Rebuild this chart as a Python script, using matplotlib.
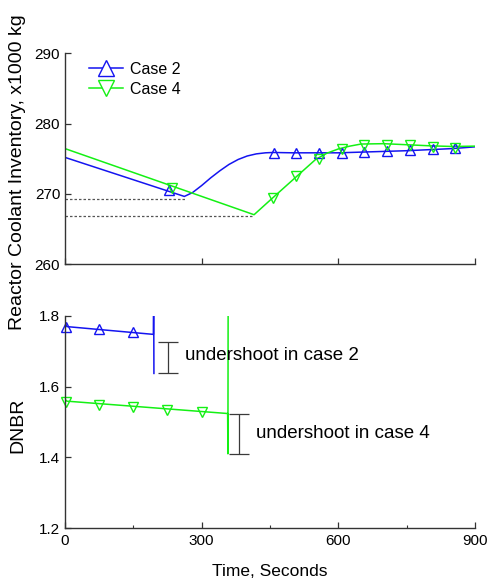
import matplotlib
matplotlib.use("Agg")
import matplotlib.pyplot as plt
from matplotlib.lines import Line2D
from matplotlib.ticker import MultipleLocator

plt.rcParams['font.family'] = ['Liberation Sans', 'DejaVu Sans']

# ---------------- data ----------------
# Top panel: reactor coolant inventory (x1000 kg)
inv_case2_t = [0, 262, 280, 300, 320, 340, 360, 380, 400, 420, 440, 457, 500, 550, 600, 650, 700, 750, 800, 850, 900]
inv_case2_v = [275.2, 269.65, 270.2, 271.2, 272.3, 273.3, 274.2, 274.9, 275.4, 275.7, 275.85, 275.9, 275.85, 275.85, 275.85, 275.95, 276.05, 276.15, 276.3, 276.45, 276.7]
inv_case2_mk_t = [229, 458, 508, 558, 607, 657, 706, 757, 807, 857]
inv_case2_mk_v = [270.55, 275.85, 275.85, 275.85, 275.8, 276.0, 276.1, 276.2, 276.4, 276.5]

inv_case4_t = [0, 415, 450, 500, 550, 575, 600, 625, 650, 700, 750, 800, 850, 900]
inv_case4_v = [276.45, 267.05, 269.1, 272.0, 274.9, 275.8, 276.4, 276.8, 277.1, 277.15, 277.0, 276.85, 276.75, 276.8]
inv_case4_mk_t = [234, 457, 508, 557, 607, 657, 706, 757, 807, 857]
inv_case4_mk_v = [270.8, 269.4, 272.5, 275.0, 276.4, 277.0, 277.0, 276.9, 276.7, 276.6]

min_case2_end, min_case2_v = 263, 269.25
min_case4_end, min_case4_v = 413, 266.8

# Bottom panel: DNBR
dnbr_case2_t = [0, 4, 194, 194.6, 195.2]
dnbr_case2_v = [1.781, 1.770, 1.748, 1.900, 1.6375]
dnbr_case2_mk_t = [3, 75, 150]
dnbr_case2_mk_v = [1.770, 1.763, 1.755]

dnbr_case4_t = [0, 4, 357, 357.6, 358.2]
dnbr_case4_v = [1.5645, 1.559, 1.524, 1.410, 1.900]
dnbr_case4_mk_t = [3, 75, 150, 225, 300]
dnbr_case4_mk_v = [1.557, 1.548, 1.543, 1.535, 1.528]

under2_t, under2_lo, under2_hi = 227, 1.639, 1.727
under4_t, under4_lo, under4_hi = 382, 1.4105, 1.522

labels = ["Case 2", "Case 4"]
inv_yticks = [260, 270, 280, 290]
dnbr_yticks = [1.2, 1.4, 1.6, 1.8]
x_ticks = [0, 300, 600, 900]

# ---------------- styling ----------------
W, H = 489, 580
BLUE = '#1414F0'
GREEN = '#14F014'
SPINE = '#333333'
fig = plt.figure(figsize=(W / 100, H / 100), dpi=100)

def px_axes(x0, x1, ytop, ybot):
    return fig.add_axes([x0 / W, 1 - ybot / H, (x1 - x0) / W, (ybot - ytop) / H])

ax1 = px_axes(65, 475, 53.3, 264.3)
ax2 = px_axes(65, 475, 316, 528)

for ax in (ax1, ax2):
    ax.set_xlim(0, 900)
    for s in ('top', 'right'):
        ax.spines[s].set_visible(False)
    for s in ('left', 'bottom'):
        ax.spines[s].set_color(SPINE)
        ax.spines[s].set_linewidth(1.0)
    ax.set_xticks(x_ticks)
    ax.tick_params(axis='both', direction='in', length=4.5, width=0.9, color=SPINE,
                   labelsize=11, pad=4)
    ax.tick_params(axis='y', pad=3.5)

lw = 1.1
ms = 7.5

# top panel
ax1.set_ylim(260, 290)
ax1.set_yticks(inv_yticks)
ax1.tick_params(axis='x', labelbottom=False)
ax1.plot([0, min_case2_end], [min_case2_v] * 2, color='#555555', lw=0.9, ls=(0, (2, 1.6)))
ax1.plot([0, min_case4_end], [min_case4_v] * 2, color='#555555', lw=0.9, ls=(0, (2, 1.6)))
ax1.plot(inv_case2_t, inv_case2_v, color=BLUE, lw=lw)
ax1.plot(inv_case4_t, inv_case4_v, color=GREEN, lw=lw)
ax1.plot(inv_case2_mk_t, inv_case2_mk_v, ls='none', marker='^', ms=ms, mfc='none',
         mec=BLUE, mew=1.0)
ax1.plot(inv_case4_mk_t, inv_case4_mk_v, ls='none', marker='v', ms=ms, mfc='none',
         mec=GREEN, mew=1.0)

handles = [Line2D([], [], color=BLUE, lw=lw, marker='^', ms=11, mfc='white', mec=BLUE, mew=1.0),
           Line2D([], [], color=GREEN, lw=lw, marker='v', ms=11, mfc='white', mec=GREEN, mew=1.0)]
ax1.legend(handles, labels, loc='upper left', bbox_to_anchor=(0.0585, 0.96), frameon=False,
           fontsize=11.5, handlelength=2.15, handletextpad=0.4, labelspacing=0.3,
           borderpad=0, borderaxespad=0)

# bottom panel
ax2.set_ylim(1.2, 1.8)
ax2.set_yticks(dnbr_yticks)
ax2.set_yticklabels([f"{v:.1f}" for v in dnbr_yticks])
ax2.xaxis.set_minor_locator(MultipleLocator(150))
ax2.tick_params(axis='x', which='minor', direction='in', length=2.5, width=0.8, color=SPINE)
ax2.plot(dnbr_case2_t, dnbr_case2_v, color=BLUE, lw=lw)
ax2.plot(dnbr_case4_t, dnbr_case4_v, color=GREEN, lw=lw)
ax2.plot(dnbr_case2_mk_t, dnbr_case2_mk_v, ls='none', marker='^', ms=ms, mfc='none',
         mec=BLUE, mew=1.0, clip_on=False)
ax2.plot(dnbr_case4_mk_t, dnbr_case4_mk_v, ls='none', marker='v', ms=ms, mfc='none',
         mec=GREEN, mew=1.0, clip_on=False)

for t, lo, hi in ((under2_t, under2_lo, under2_hi), (under4_t, under4_lo, under4_hi)):
    ax2.errorbar([t], [(lo + hi) / 2], yerr=[[(hi - lo) / 2], [(hi - lo) / 2]], fmt='none',
                 ecolor='#3a3a3a', elinewidth=0.9, capsize=7, capthick=0.9)

ax2.text(263, 1.689, "undershoot in case 2", fontsize=13.5, ha='left', va='center')
ax2.text(419, 1.467, "undershoot in case 4", fontsize=13.5, ha='left', va='center')

# axis labels
fig.text(18 / W, 1 - 172 / H, "Reactor Coolant Inventory, x1000 kg", rotation=90,
         ha='center', va='center', fontsize=14)
fig.text(18 / W, 1 - 425 / H, "DNBR", rotation=90, ha='center', va='center', fontsize=14)
fig.text(270 / W, 1 - 571 / H, "Time, Seconds", ha='center', va='center', fontsize=12.5)

fig.savefig("out.png", dpi=100)
